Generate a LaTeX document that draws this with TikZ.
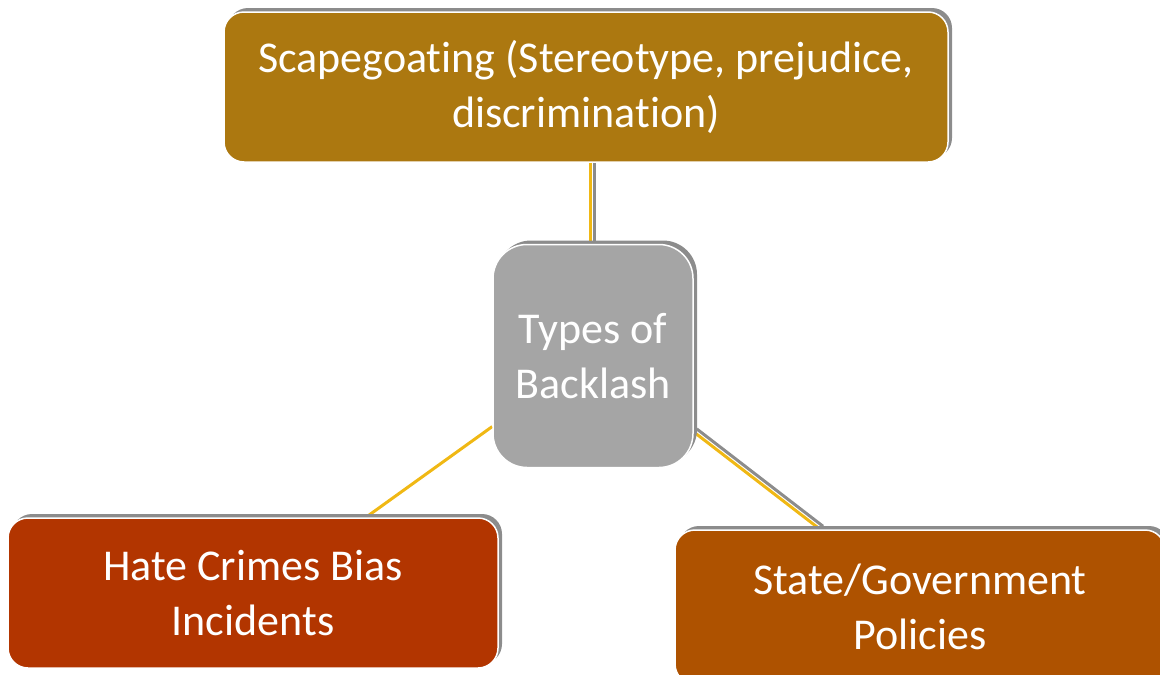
\documentclass[tikz,border=0pt]{standalone}
\usepackage{fontspec}
\setmainfont[Ligatures={NoCommon}]{Carlito}
\usetikzlibrary{shadows,backgrounds,calc}
\definecolor{goldbox}{RGB}{172,120,16}
\definecolor{greybox}{RGB}{165,165,165}
\definecolor{redbox}{RGB}{178,53,0}
\definecolor{orangebox}{RGB}{174,82,0}
\definecolor{linkgold}{RGB}{240,184,20}
\definecolor{shadowgrey}{RGB}{140,140,140}
\tikzset{
  box/.style={rectangle, draw=white, line width=1.5pt, text=white, align=center,
    font=\fontsize{44}{55}\selectfont, inner sep=0pt,
    general shadow={shadow xshift=4pt, shadow yshift=4pt, fill=shadowgrey}},
  link/.style={draw=linkgold, line width=3pt},
  linkshadow/.style={draw=shadowgrey, line width=3pt},
}
\begin{document}
\begin{tikzpicture}[x=1pt,y=-1pt]
\useasboundingbox (0,0) rectangle (1160,675);
\node[box, fill=goldbox, rounded corners=20pt, minimum width=724pt, minimum height=150pt] (top) at (586,87)
  {Scapegoating (Stereotype, prejudice,\\discrimination)};
\node[box, fill=greybox, rounded corners=34pt, minimum width=200pt, minimum height=223pt] (mid) at (593,356)
  {Types of\\Backlash};
\node[box, fill=redbox, rounded corners=20pt, minimum width=490pt, minimum height=150pt] (hate) at (253,593)
  {Hate Crimes Bias\\Incidents};
\node[box, fill=orangebox, rounded corners=20pt, minimum width=490pt, minimum height=154pt] (state) at (920,607)
  {State/Government\\Policies};
\begin{scope}[on background layer]
  \draw[linkshadow] ($(mid.north)+(1,0)$) -- ($(top.south)+(8,0)$);
  \draw[link] ($(mid.north)+(-3,0)$) -- ($(top.south)+(4,0)$);
  \draw[link] (mid.215.6) -- ($(hate.north)+(113,0)$);
  \draw[linkshadow] ($(mid.323.5)+(3,-3)$) -- ($(state.north)+(-97,-3)$);
  \draw[link] (mid.323.5) -- ($(state.north)+(-100,0)$);
\end{scope}
\end{tikzpicture}
\end{document}
